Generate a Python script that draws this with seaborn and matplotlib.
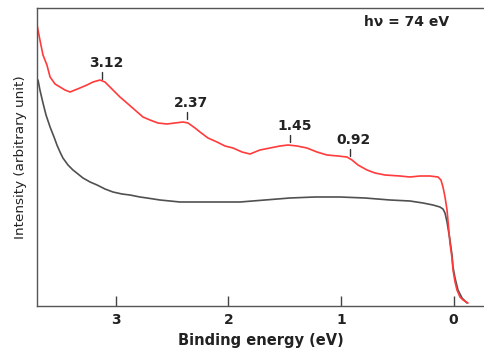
import matplotlib
matplotlib.use("Agg")
import matplotlib.pyplot as plt
import seaborn as sns
import pandas as pd

# Binding energy (eV) and intensity (arbitrary units)
red_energy = [3.70, 3.671, 3.644, 3.609, 3.581, 3.537, 3.493, 3.449, 3.404, 3.360,
              3.316, 3.254, 3.200, 3.138, 3.094, 3.023, 2.961, 2.899, 2.828, 2.757,
              2.695, 2.624, 2.544, 2.473, 2.402, 2.357, 2.295, 2.251, 2.180, 2.100,
              2.029, 1.958, 1.878, 1.807, 1.719, 1.630, 1.541, 1.470, 1.390, 1.302,
              1.213, 1.124, 1.027, 0.947, 0.902, 0.849, 0.769, 0.698, 0.610, 0.477,
              0.388, 0.299, 0.210, 0.139, 0.113, 0.095, 0.077, 0.059, 0.033, 0.015,
              0.006, -0.012, -0.029, -0.056, -0.083, -0.127]
red_intensity = [283, 266, 251, 241, 229, 222, 219, 216, 214, 216,
                 218, 221, 224, 226, 224, 216, 209, 203, 196, 189,
                 186, 183, 182, 183, 184, 183, 178, 174, 168, 164,
                 160, 158, 154, 152, 156, 158, 160, 161, 160, 158,
                 154, 151, 150, 149, 146, 141, 136, 133, 131, 130,
                 129, 130, 130, 129, 126, 119, 109, 96, 63, 48,
                 36, 24, 16, 9, 6, 3]

gray_energy = [3.688, 3.671, 3.644, 3.617, 3.581, 3.546, 3.520, 3.493, 3.467, 3.422,
               3.378, 3.333, 3.289, 3.226, 3.164, 3.094, 3.023, 2.943, 2.872, 2.784,
               2.721, 2.606, 2.428, 2.251, 2.073, 1.896, 1.674, 1.453, 1.231, 1.009,
               0.787, 0.565, 0.388, 0.272, 0.184, 0.122, 0.095, 0.077, 0.059, 0.033,
               0.015, 0.006, -0.012, -0.038, -0.074, -0.118]
gray_intensity = [226, 216, 203, 191, 179, 169, 161, 154, 148, 141,
                  136, 132, 128, 124, 121, 117, 114, 112, 111, 109,
                  108, 106, 104, 104, 104, 104, 106, 108, 109, 109,
                  108, 106, 105, 103, 101, 99, 97, 93, 84, 66,
                  51, 39, 28, 16, 8, 3]

peak_labels = ["3.12", "2.37", "1.45", "0.92"]
peak_energy = [3.12, 2.37, 1.45, 0.92]
peak_tick_base = [226, 186, 163, 149]

x_ticks = [3, 2, 1, 0]

sns.set_style("ticks")
plt.rcParams["font.family"] = ["DejaVu Sans"]

fig = plt.figure(figsize=(4.84, 3.53), dpi=100)
ax = fig.add_axes([37 / 484, 47 / 353, 447 / 484, 298 / 353])

red_df = pd.DataFrame({"energy": red_energy, "intensity": red_intensity})
gray_df = pd.DataFrame({"energy": gray_energy, "intensity": gray_intensity})

sns.lineplot(data=gray_df, x="energy", y="intensity", ax=ax, color="#505050",
             linewidth=1.2, sort=False, estimator=None)
sns.lineplot(data=red_df, x="energy", y="intensity", ax=ax, color="#ff3b3b",
             linewidth=1.2, sort=False, estimator=None)

ax.set_xlim(3.697, -0.269)
ax.set_ylim(0, 298)

for lab, e, base in zip(peak_labels, peak_energy, peak_tick_base):
    ax.plot([e, e], [base + 1, base + 8], color="#333333", linewidth=1.0)
    ax.annotate(lab, xy=(e, base + 8), xytext=(4, 5), textcoords="offset pixels",
                ha="center", va="baseline", fontsize=10, fontweight="bold",
                color="#222222")

ax.text(0.826, 0.952, "h\u03bd = 74 eV", transform=ax.transAxes, ha="center",
        va="center", fontsize=10, fontweight="bold", color="#222222")

ax.set_xticks(x_ticks)
ax.set_xticklabels([str(t) for t in x_ticks], fontsize=10, fontweight="bold",
                   color="#222222")
ax.set_yticks([])
ax.tick_params(axis="x", direction="in", length=7, width=1.0, color="#444444", pad=5)

ax.set_xlabel("Binding energy (eV)", fontsize=10.5, fontweight="bold",
              color="#222222", labelpad=4)
ax.set_ylabel("Intensity (arbitrary unit)", fontsize=9.7, color="#222222", labelpad=7)

for side in ["left", "bottom", "top"]:
    ax.spines[side].set_color("#555555")
    ax.spines[side].set_linewidth(1.0)
ax.spines["right"].set_visible(False)

fig.savefig("out.png", dpi=100)
